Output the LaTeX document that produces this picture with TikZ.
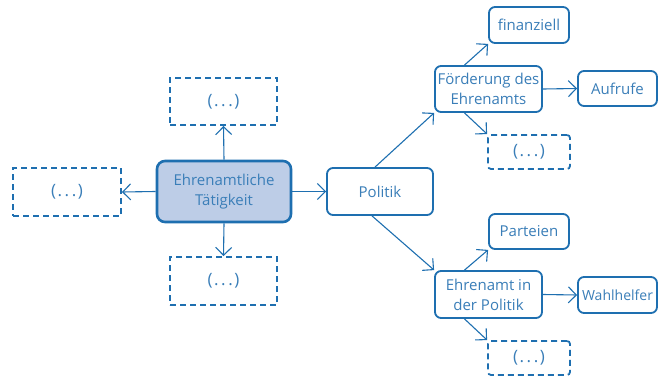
\documentclass[tikz,border=0pt]{standalone}
\usepackage{fontspec}
\setmainfont{Open Sans}
\usetikzlibrary{arrows.meta}
\definecolor{bdr}{HTML}{1E6FB0}
\definecolor{txt}{HTML}{3A7EB8}
\definecolor{mainfill}{HTML}{BDCDE7}
\newcommand{\etc}{{\fontsize{17}{20}\selectfont(\kern1.5pt.\kern2.5pt.\kern2.5pt.\kern1.5pt)}}
\tikzset{
  every node/.style={font=\fontsize{15}{20}\selectfont, text=txt, align=center, inner sep=0pt},
  mainbox/.style={draw=bdr, line width=2.6pt, fill=mainfill, rounded corners=8pt},
  solidbox/.style={draw=bdr, line width=1.8pt, fill=white, rounded corners=6pt},
  dashbox/.style={draw=bdr, line width=1.8pt, dash pattern=on 6pt off 4pt},
  conn/.style={draw=bdr, line width=1.1pt, -{Straight Barb[length=8pt,width=16pt,line width=1.1pt]}},
}
\begin{document}
\begin{tikzpicture}[x=1pt,y=-1pt]
\useasboundingbox (0,0) rectangle (661,377);
\node[mainbox, minimum width=134pt, minimum height=61pt] (main) at (224,191.5) {Ehrenamtliche\\Tätigkeit};
\node[dashbox, minimum width=107pt, minimum height=47pt] (top) at (223.5,101.5) {\etc};
\node[dashbox, minimum width=108pt, minimum height=48pt] (left) at (67,192) {\etc};
\node[dashbox, minimum width=107pt, minimum height=48pt] (bot) at (223.5,281) {\etc};
\node[solidbox, minimum width=106pt, minimum height=47pt] (pol) at (380,191.5) {Politik};
\node[solidbox, minimum width=107pt, minimum height=46pt] (foe) at (488.5,89) {Förderung des\\Ehrenamts};
\node[solidbox, minimum width=80pt, minimum height=36pt] (fin) at (529,25) {finanziell};
\node[solidbox, minimum width=79pt, minimum height=35pt] (auf) at (617.5,88.5) {Aufrufe};
\node[dashbox, rounded corners=3pt, minimum width=82pt, minimum height=34pt] (d1) at (529,152) {\etc};
\node[solidbox, minimum width=107pt, minimum height=47pt] (eip) at (488.5,294.5) {Ehrenamt in\\der Politik};
\node[solidbox, minimum width=80pt, minimum height=35pt] (par) at (529,231.5) {Parteien};
\node[solidbox, minimum width=79pt, minimum height=36pt, font=\fontsize{14}{20}\selectfont] (wah) at (617.5,295) {Wahlhelfer};
\node[dashbox, rounded corners=3pt, minimum width=82pt, minimum height=34pt] (d2) at (529,358) {\etc};
\draw[conn] (main.north) -- (top.south);
\draw[conn] (main.west) -- (left.east);
\draw[conn] (main.south) -- (bot.north);
\draw[conn] (main.east) -- (pol.west);
\draw[conn] ([xshift=-5pt]pol.north) -- (foe.south west);
\draw[conn] ([xshift=-8pt]pol.south) -- (eip.north west);
\draw[conn] ([xshift=-24pt]foe.north) -- (fin.south west);
\draw[conn] (foe.east) -- (auf.west);
\draw[conn] ([xshift=-24pt]foe.south) -- (d1.north west);
\draw[conn] ([xshift=-24pt]eip.north) -- (par.south west);
\draw[conn] (eip.east) -- (wah.west);
\draw[conn] ([xshift=-24pt]eip.south) -- (d2.north west);
\end{tikzpicture}
\end{document}
